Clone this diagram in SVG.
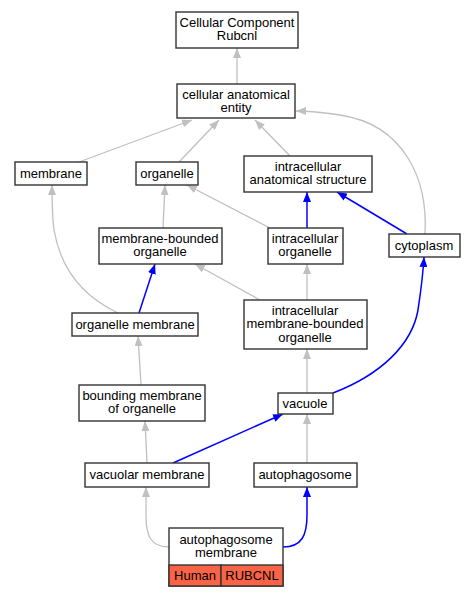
<svg xmlns="http://www.w3.org/2000/svg" width="475" height="597" viewBox="0 0 475 597">
<defs>
<style>
.n rect{fill:#fff;stroke:#333;stroke-width:1.4}
text{font-family:"Liberation Sans",Arial,sans-serif;font-size:13px;fill:#000;text-anchor:middle}
.g{fill:none;stroke:#c0c0c0;stroke-width:1.3}
.b{fill:none;stroke:#0000ff;stroke-width:1.5}
</style>
<marker id="ag" viewBox="0 0 10 8" refX="10" refY="4" markerWidth="10" markerHeight="8" markerUnits="userSpaceOnUse" orient="auto"><path d="M0,0L10,4L0,8z" fill="#c0c0c0"/></marker>
<marker id="ab" viewBox="0 0 10 8" refX="10" refY="4" markerWidth="10" markerHeight="8" markerUnits="userSpaceOnUse" orient="auto"><path d="M0,0L10,4L0,8z" fill="#0000ff"/></marker>
</defs>
<rect width="475" height="597" fill="#fff"/>
<g id="edges">
<path class="g" marker-end="url(#ag)" d="M237,84L237,48"/>
<path class="g" marker-end="url(#ag)" d="M79,162L192,120"/>
<path class="g" marker-end="url(#ag)" d="M179,162L219,120"/>
<path class="g" marker-end="url(#ag)" d="M290,156L255,120"/>
<path class="g" marker-end="url(#ag)" d="M425,234C428,180 405,125 340,115C320,112 308,111 296,111"/>
<path class="g" marker-end="url(#ag)" d="M163,228L165,185"/>
<path class="g" marker-end="url(#ag)" d="M270,228L187,185"/>
<path class="b" marker-end="url(#ab)" d="M307,228L307,192"/>
<path class="b" marker-end="url(#ab)" d="M407,234L337,192"/>
<path class="g" marker-end="url(#ag)" d="M118,313C80,295 60,265 54,230C52,215 52,200 52,185"/>
<path class="b" marker-end="url(#ab)" d="M139,313L155,264"/>
<path class="g" marker-end="url(#ag)" d="M260,300L195,264"/>
<path class="g" marker-end="url(#ag)" d="M307,300L307,264"/>
<path class="b" marker-end="url(#ab)" d="M333,393C380,375 412,345 418,310C421,290 423,275 424,257"/>
<path class="g" marker-end="url(#ag)" d="M307,393L307,349"/>
<path class="g" marker-end="url(#ag)" d="M141,385L138,336"/>
<path class="g" marker-end="url(#ag)" d="M147,463L145,421"/>
<path class="b" marker-end="url(#ab)" d="M173,463L283,414"/>
<path class="g" marker-end="url(#ag)" d="M307,463L307,414"/>
<path class="g" marker-end="url(#ag)" d="M169,547C150,547 146,535 146,515C146,505 146,497 146,487"/>
<path class="b" marker-end="url(#ab)" d="M283,547C302,547 307,535 307,515C307,505 307,497 307,487"/>
</g>
<g id="n_rubcnl" class="n"><rect x="176" y="12" width="122" height="36"/><text x="237" y="27">Cellular Component</text><text x="237" y="40">Rubcnl</text></g>
<g id="n_cae" class="n"><rect x="177" y="84" width="118" height="34"/><text x="236" y="98.5">cellular anatomical</text><text x="236" y="111.5">entity</text></g>
<g id="n_membrane" class="n"><rect x="15" y="162" width="72" height="23"/><text x="51" y="178">membrane</text></g>
<g id="n_organelle" class="n"><rect x="136" y="162" width="62" height="23"/><text x="167" y="178">organelle</text></g>
<g id="n_ias" class="n"><rect x="244" y="156" width="128" height="36"/><text x="308" y="170.5">intracellular</text><text x="308" y="183.5">anatomical structure</text></g>
<g id="n_mbo" class="n"><rect x="99" y="228" width="123" height="36"/><text x="160" y="242.5">membrane-bounded</text><text x="160" y="255.5">organelle</text></g>
<g id="n_io" class="n"><rect x="268" y="228" width="75" height="36"/><text x="305" y="242.5">intracellular</text><text x="305" y="255.5">organelle</text></g>
<g id="n_cytoplasm" class="n"><rect x="389" y="234" width="71" height="23"/><text x="424" y="250">cytoplasm</text></g>
<g id="n_om" class="n"><rect x="72" y="313" width="126" height="23"/><text x="135" y="329">organelle membrane</text></g>
<g id="n_imbo" class="n"><rect x="244" y="300" width="123" height="49"/><text x="305" y="314.5">intracellular</text><text x="305" y="327.5">membrane-bounded</text><text x="305" y="341.5">organelle</text></g>
<g id="n_bmo" class="n"><rect x="79" y="385" width="126" height="36"/><text x="142" y="399.5">bounding membrane</text><text x="142" y="412.5">of organelle</text></g>
<g id="n_vacuole" class="n"><rect x="278" y="393" width="55" height="21"/><text x="305" y="408">vacuole</text></g>
<g id="n_vm" class="n"><rect x="85" y="463" width="124" height="24"/><text x="147" y="479">vacuolar membrane</text></g>
<g id="n_ap" class="n"><rect x="254" y="463" width="103" height="24"/><text x="305" y="479">autophagosome</text></g>
<g id="n_apm" class="n"><rect x="169" y="528" width="114" height="58"/><text x="226" y="543.5">autophagosome</text><text x="226" y="556.5">membrane</text><rect x="169" y="565" width="52" height="21" style="fill:#fa6446"/><rect x="221" y="565" width="62" height="21" style="fill:#fa6446"/><text x="195" y="580">Human</text><text x="252" y="580">RUBCNL</text></g>
</svg>
